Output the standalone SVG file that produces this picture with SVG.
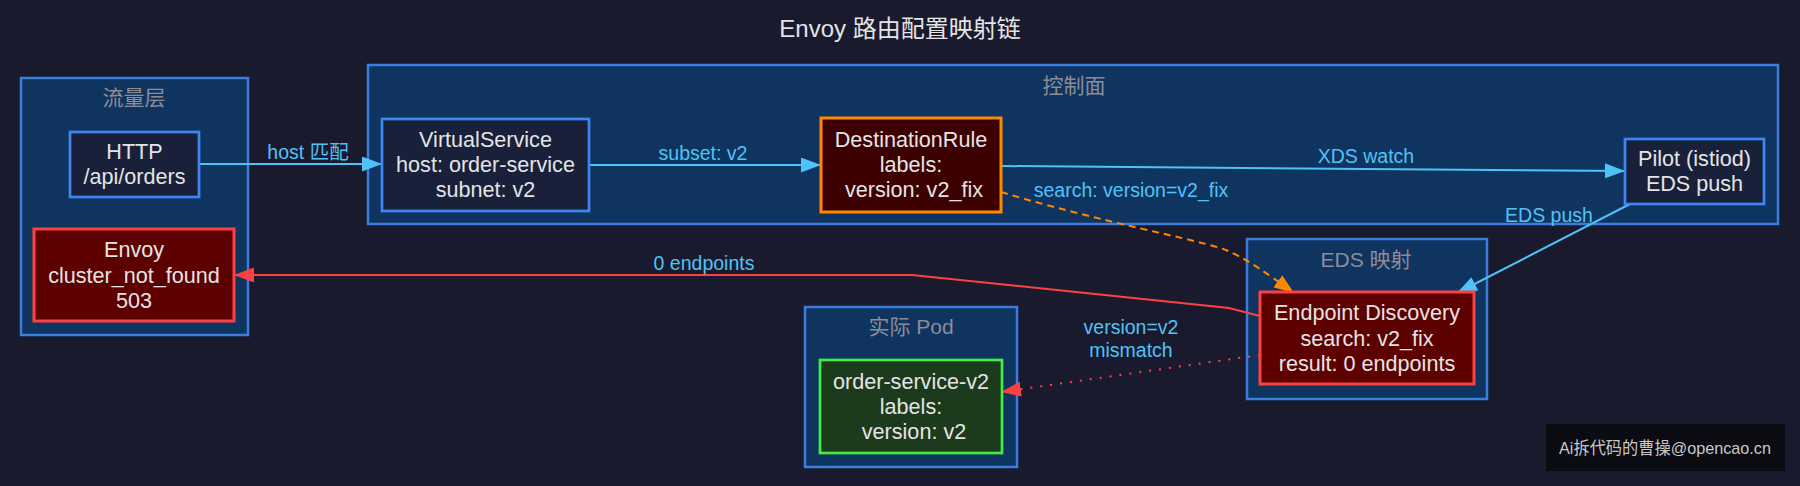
<svg xmlns="http://www.w3.org/2000/svg" width="1800" height="486" viewBox="0 0 1800 486">
<defs>
<style>
.cl{fill:#0f3460;stroke:#3b7ddd;stroke-width:2.5}
.clt{font-family:"Liberation Sans","Noto Sans CJK SC",sans-serif;font-size:21px;fill:#8c8c99;text-anchor:middle}
.nt{font-family:"Liberation Sans","Noto Sans CJK SC",sans-serif;font-size:21.6px;fill:#e4e4e4;text-anchor:middle}
.el{font-family:"Liberation Sans","Noto Sans CJK SC",sans-serif;font-size:19.5px;fill:#4fc3f7;text-anchor:middle}
.nb{fill:#18203a;stroke:#3f86f4;stroke-width:2.7}
.nr{fill:#5c0000;stroke:#ff4040;stroke-width:3}
.eb{fill:none;stroke:#4fc3f7;stroke-width:2}
.er{fill:none;stroke:#ff4040;stroke-width:2}
</style>
<marker id="ab" markerUnits="userSpaceOnUse" markerWidth="20" markerHeight="15" refX="20" refY="7.5" orient="auto"><path d="M0,0 L20,7.5 L0,15 z" fill="#4fc3f7"/></marker>
<marker id="ar" markerUnits="userSpaceOnUse" markerWidth="20" markerHeight="15" refX="20" refY="7.5" orient="auto"><path d="M0,0 L20,7.5 L0,15 z" fill="#ff4040"/></marker>
<marker id="ao" markerUnits="userSpaceOnUse" markerWidth="20" markerHeight="15" refX="20" refY="7.5" orient="auto"><path d="M0,0 L20,7.5 L0,15 z" fill="#ff8800"/></marker>
</defs>
<rect width="1800" height="486" fill="#1a1a2e"/>
<text x="900" y="36.5" font-family="Liberation Sans,Noto Sans CJK SC,sans-serif" font-size="24" fill="#e4e4e4" text-anchor="middle">Envoy 路由配置映射链</text>

<g id="cluster-traffic">
<rect class="cl" x="21" y="78" width="227" height="257"/>
<text class="clt" x="134" y="104.5">流量层</text>
</g>
<g id="cluster-control">
<rect class="cl" x="368" y="65" width="1410" height="159"/>
<text class="clt" x="1074" y="92.5">控制面</text>
</g>
<g id="cluster-eds">
<rect class="cl" x="1247" y="239" width="240" height="160"/>
<text class="clt" x="1366" y="266.5">EDS 映射</text>
</g>
<g id="cluster-pod">
<rect class="cl" x="805" y="307" width="212" height="160"/>
<text class="clt" x="911" y="333.5">实际 Pod</text>
</g>

<g id="edges">
<path class="eb" d="M199,164 L382,164" marker-end="url(#ab)"/>
<text class="el" x="308" y="159">host 匹配</text>
<path class="eb" d="M589,165 L821,165" marker-end="url(#ab)"/>
<text class="el" x="703" y="160">subset: v2</text>
<path class="eb" d="M1001,166 L1625,171" marker-end="url(#ab)"/>
<text class="el" x="1366" y="163">XDS watch</text>
<path d="M1001,192 C1100,222 1200,240 1226,250 C1245,258 1265,272 1294,293" fill="none" stroke="#ff8800" stroke-width="2" stroke-dasharray="7,5" marker-end="url(#ao)"/>
<text class="el" x="1131" y="197">search: version=v2_fix</text>
<path class="eb" d="M1630,204 L1457,293" marker-end="url(#ab)"/>
<text class="el" x="1549" y="222">EDS push</text>
<path class="er" d="M1260,316 L1229,308 L912,275 L234,275" marker-end="url(#ar)"/>
<text class="el" x="704" y="270">0 endpoints</text>
<path class="er" d="M1260,355 L1001,392" stroke-dasharray="2,8" marker-end="url(#ar)"/>
<text class="el" x="1131" y="334">version=v2</text>
<text class="el" x="1131" y="357">mismatch</text>
</g>

<g id="node-http">
<rect class="nb" x="70" y="132" width="129" height="65"/>
<text class="nt" x="134.5" y="158.5">HTTP</text>
<text class="nt" x="134.5" y="184">/api/orders</text>
</g>
<g id="node-envoy">
<rect class="nr" x="34" y="229" width="200" height="92"/>
<text class="nt" x="134" y="257">Envoy</text>
<text class="nt" x="134" y="282.5">cluster_not_found</text>
<text class="nt" x="134" y="307.7">503</text>
</g>
<g id="node-vs">
<rect class="nb" x="382" y="119" width="207" height="92"/>
<text class="nt" x="485.5" y="146.5">VirtualService</text>
<text class="nt" x="485.5" y="171.7">host: order-service</text>
<text class="nt" x="485.5" y="196.9">subnet: v2</text>
</g>
<g id="node-dr">
<rect x="821" y="118" width="180" height="94" fill="#3d0000" stroke="#ff8800" stroke-width="3"/>
<text class="nt" x="911" y="146.5">DestinationRule</text>
<text class="nt" x="911" y="171.7">labels:</text>
<text class="nt" x="914" y="196.9">version: v2_fix</text>
</g>
<g id="node-pilot">
<rect class="nb" x="1625" y="139" width="139" height="65"/>
<text class="nt" x="1694.5" y="165.6">Pilot (istiod)</text>
<text class="nt" x="1694.5" y="190.8">EDS push</text>
</g>
<g id="node-ed">
<rect class="nr" x="1260" y="292" width="214" height="92"/>
<text class="nt" x="1367" y="320.3">Endpoint Discovery</text>
<text class="nt" x="1367" y="345.5">search: v2_fix</text>
<text class="nt" x="1367" y="370.7">result: 0 endpoints</text>
</g>
<g id="node-pod">
<rect x="820" y="360" width="182" height="93" fill="#1c3a1c" stroke="#44ee44" stroke-width="2.7"/>
<text class="nt" x="911" y="389">order-service-v2</text>
<text class="nt" x="911" y="414">labels:</text>
<text class="nt" x="914" y="439">version: v2</text>
</g>

<g id="watermark">
<rect x="1546" y="424" width="239" height="47" fill="#0b0b12"/>
<text x="1665" y="454" font-family="Liberation Sans,Noto Sans CJK SC,sans-serif" font-size="17" fill="#c8c8c8" text-anchor="middle" textLength="212" lengthAdjust="spacingAndGlyphs">Ai拆代码的曹操@opencao.cn</text>
</g>
</svg>
